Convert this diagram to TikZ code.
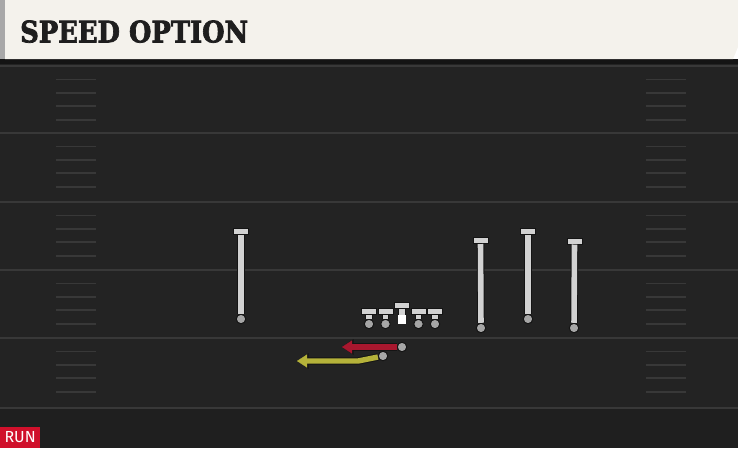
\documentclass[tikz,border=0pt]{standalone}
\usepackage{fontspec}
\usepackage{tikz}
\usetikzlibrary{arrows.meta}

\newfontfamily\titlefont{DejaVu Serif}[FakeBold=2.5]
\newfontfamily\tagfont{Fira Sans}

\definecolor{field}{HTML}{232323}
\definecolor{fieldlow}{HTML}{1F1F1F}
\definecolor{lines}{HTML}{383838}
\definecolor{banner}{HTML}{F4F2EC}
\definecolor{bannerside}{HTML}{A8A8A8}
\definecolor{outline}{HTML}{141414}
\definecolor{stemgray}{HTML}{D2D2D2}
\definecolor{dotgray}{HTML}{A6A6A6}
\definecolor{runred}{HTML}{D0102B}
\definecolor{qbred}{HTML}{A8172E}
\definecolor{rbyellow}{HTML}{B5B23A}
\definecolor{titleink}{HTML}{1E1E1E}

\begin{document}
\begin{tikzpicture}[x=1pt,y=-1pt,
    yard line/.style={draw=lines,line width=1.6pt},
    hash/.style={draw=lines,line width=1.2pt},
    bar/.style={rectangle,draw=outline,fill=stemgray,line width=1pt,
                minimum width=15pt,minimum height=6pt,inner sep=0pt},
    dot/.style={circle,draw=outline,fill=dotgray,line width=1pt,
                minimum size=9.5pt,inner sep=0pt},
    center/.style={rectangle,fill=white,minimum width=8pt,minimum height=9pt,inner sep=0pt},
    stem/.style={draw=stemgray,line width=5.6pt,
                 preaction={draw=outline,line width=7.6pt}},
    route/.style={line width=5.4pt,
                  -{Triangle[length=10pt,width=13pt,line width=0.1pt]},
                  preaction={draw=outline,line width=7.4pt,
                  -{Triangle[length=11.5pt,width=15.5pt,line width=0.1pt]}}},
    run tag/.style={rectangle,fill=runred,text=white,inner sep=0pt,
                    minimum width=40pt,minimum height=21pt,
                    font=\tagfont\fontsize{16}{16}\selectfont}]

  \useasboundingbox (0,0) rectangle (738,448);

  % field
  \fill[field] (0,59) rectangle (738,408);
  \fill[fieldlow] (0,408) rectangle (738,448);
  \fill[outline] (0,59) rectangle (738,64);
  \foreach \y in {66,133,202,270,338,408}
    \draw[yard line] (0,\y) -- (738,\y);
  \foreach \y in {66,133,202,270,338}
    \foreach \d in {13.5,27,40,54} {
      \draw[hash] (56,\y+\d) -- (96,\y+\d);
      \draw[hash] (646,\y+\d) -- (686,\y+\d);
    }

  % banner
  \fill[bannerside] (0,0) rectangle (5,59);
  \fill[banner] (5,0) -- (738,0) -- (738,47) -- (733,59) -- (5,59) -- cycle;
  \node[inner sep=0pt,anchor=south west,text=titleink] (title) at (20,43)
    {\resizebox{228pt}{22pt}{\titlefont\bfseries SPEED OPTION}};

  % receivers
  \node[bar] (wr1top) at (241,231.5) {};
  \node[dot] (wr1) at (241,319) {};
  \node[bar] (wr2top) at (480.5,240.5) {};
  \node[dot] (wr2) at (481,328) {};
  \node[bar] (wr3top) at (528,231) {};
  \node[dot] (wr3) at (528,319) {};
  \node[bar] (wr4top) at (574.5,241) {};
  \node[dot] (wr4) at (574,328) {};
  \foreach \p in {wr1,wr2,wr3,wr4}
    \draw[stem] (\p) -- (\p top);

  % line
  \node[bar] (lttop) at (369,311) {};
  \node[dot] (lt) at (369,324) {};
  \node[bar] (lgtop) at (385.5,311) {};
  \node[dot] (lg) at (385.5,324) {};
  \node[bar] (ctop) at (402,305.5) {};
  \node[center] (c) at (402,319.5) {};
  \node[bar] (rgtop) at (418.5,311) {};
  \node[dot] (rg) at (418.5,324) {};
  \node[bar] (rttop) at (435,311) {};
  \node[dot] (rt) at (435,324) {};
  \foreach \p in {lt,lg,c,rg,rt}
    \draw[stem] (\p) -- (\p top);

  % backfield
  \node[dot] (qb) at (402,347) {};
  \node[dot] (rb) at (383,356) {};
  \coordinate (qbend) at (342,347);
  \coordinate (rbbend) at (358,361);
  \coordinate (rbend) at (297,361);

  \draw[route,draw=qbred,color=qbred] (qb) -- (qbend);
  \draw[route,draw=rbyellow,color=rbyellow] (rb) -- (rbbend) -- (rbend);

  \node[run tag,anchor=south west] (run) at (0,448) {RUN};
\end{tikzpicture}
\end{document}
